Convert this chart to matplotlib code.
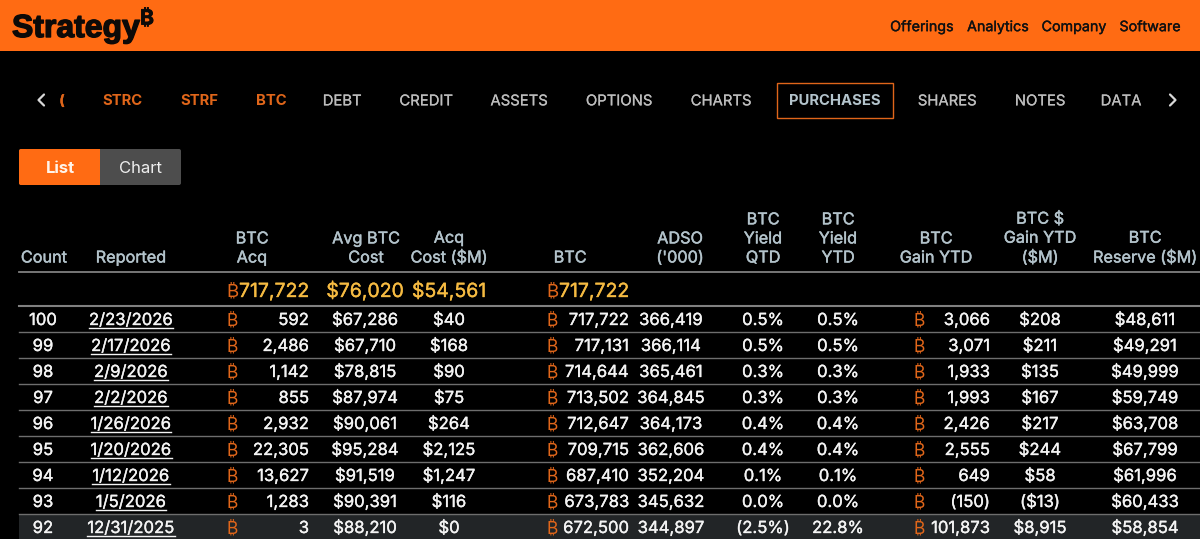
"""Strategy purchases table, drawn in pixel coordinates."""
import matplotlib
matplotlib.use("Agg")
import matplotlib.pyplot as plt
import matplotlib.patheffects as pe
from matplotlib.patches import Rectangle, FancyBboxPatch

ORANGE = "#ff6b13"
BTC_ORANGE = "#e0661a"
GOLD = "#f6bb42"
HEAD = "#b3c3cb"
WHITE = "#f4f4f4"
RULE = "#6e6e6e"
NAVGREY = "#bdbdbd"
FONT = ["Inter", "DejaVu Sans"]
BTC = "\u20bf"

top_links = ["Offerings", "Analytics", "Company", "Software"]
top_link_x = [922, 998, 1074, 1150]

nav_orange = ["STRC", "STRF", "BTC"]
nav_orange_x = [122.5, 199, 271]
nav_grey = ["DEBT", "CREDIT", "ASSETS", "OPTIONS", "CHARTS", "SHARES", "NOTES", "DATA"]
nav_grey_x = [342, 426, 519, 619, 721, 947, 1040, 1121]

counts = [100, 99, 98, 97, 96, 95, 94, 93, 92]
reported = ["2/23/2026", "2/17/2026", "2/9/2026", "2/2/2026", "1/26/2026",
            "1/20/2026", "1/12/2026", "1/5/2026", "12/31/2025"]
btc_acq = ["592", "2,486", "1,142", "855", "2,932", "22,305", "13,627", "1,283", "3"]
avg_cost = ["$67,286", "$67,710", "$78,815", "$87,974", "$90,061",
            "$95,284", "$91,519", "$90,391", "$88,210"]
acq_cost = ["$40", "$168", "$90", "$75", "$264", "$2,125", "$1,247", "$116", "$0"]
btc_total = ["717,722", "717,131", "714,644", "713,502", "712,647",
             "709,715", "687,410", "673,783", "672,500"]
adso = ["366,419", "366,114", "365,461", "364,845", "364,173",
        "362,606", "352,204", "345,632", "344,897"]
yield_qtd = ["0.5%", "0.5%", "0.3%", "0.3%", "0.4%", "0.4%", "0.1%", "0.0%", "(2.5%)"]
yield_ytd = ["0.5%", "0.5%", "0.3%", "0.3%", "0.4%", "0.4%", "0.1%", "0.0%", "22.8%"]
gain_ytd = ["3,066", "3,071", "1,933", "1,993", "2,426", "2,555", "649", "(150)", "101,873"]
usd_gain = ["$208", "$211", "$135", "$167", "$217", "$244", "$58", "($13)", "$8,915"]
reserve = ["$48,611", "$49,291", "$49,999", "$59,749", "$63,708",
           "$67,799", "$61,996", "$60,433", "$58,854"]

headers = ["Count", "Reported", "BTC\nAcq", "Avg BTC\nCost", "Acq\nCost ($M)", "BTC",
           "ADSO\n('000)", "BTC\nYield\nQTD", "BTC\nYield\nYTD", "BTC\nGain YTD",
           "BTC $\nGain YTD\n($M)", "BTC\nReserve ($M)"]
header_x = [44, 131, 252, 366, 449, 570, 680, 763, 838, 936, 1040, 1145]

W, H = 1200, 539
fig = plt.figure(figsize=(W / 100, H / 100), dpi=100, facecolor="black")
ax = fig.add_axes([0, 0, 1, 1])
ax.set_xlim(0, W)
ax.set_ylim(H, 0)
ax.axis("off")


def put(x, y, s, size=12, color=WHITE, ha="center", weight=0.25, **kw):
    # y is the row centre; baseline alignment keeps digits level across cells
    t = ax.text(x, y + size * 0.5, s, fontsize=size, color=color, ha=ha,
                va="baseline", family=FONT, **kw)
    if weight:
        t.set_path_effects([pe.withStroke(linewidth=weight, foreground=color)])
    return t


# header bar and logo
ax.add_patch(Rectangle((0, 0), W, 51, color=ORANGE, lw=0))
logo = ax.text(12, 37, "Strategy", fontsize=23, color="#0d0a08", ha="left", va="baseline",
               family=["Liberation Sans", "DejaVu Sans"], fontweight="bold")
logo.set_path_effects([pe.withStroke(linewidth=1.0, foreground="#0d0a08")])
put(147, 17, BTC, size=15, color="#0d0a08", fontweight="bold", weight=0.6)
for s, x in zip(top_links, top_link_x):
    put(x, 26, s, size=10.3, color="#111111")

# tab strip
for pts in ([(44, 94.5), (38.5, 100), (44, 105.5)], [(1170, 94.5), (1175.5, 100), (1170, 105.5)]):
    ax.plot(*zip(*pts), color="#d8d8d8", lw=1.6, solid_capstyle="round")
put(62, 100, "(", size=10, color=BTC_ORANGE, fontweight="bold")
for s, x in zip(nav_orange, nav_orange_x):
    put(x, 100, s, size=10.7, color=BTC_ORANGE, fontweight="bold", weight=0)
for s, x in zip(nav_grey, nav_grey_x):
    put(x, 100, s, size=10.7, color=NAVGREY, weight=0.15)
ax.add_patch(Rectangle((776.5, 82.5), 116.5, 35.5, fill=False, ec=BTC_ORANGE, lw=1))
put(835, 100, "PURCHASES", size=10.7, color=HEAD, fontweight="bold", weight=0)

# list / chart toggle
ax.add_patch(FancyBboxPatch((19, 149), 162, 36, boxstyle="round,pad=0,rounding_size=2",
                            fc="#4d4d4d", lw=0))
ax.add_patch(FancyBboxPatch((19, 149), 81, 36, boxstyle="round,pad=0,rounding_size=2",
                            fc=ORANGE, lw=0))
ax.add_patch(Rectangle((90, 149), 10, 36, color=ORANGE, lw=0))
put(60, 167, "List", size=12, color="#fff4ea", fontweight="bold", weight=0)
put(141, 167, "Chart", size=12, color="#efefef", weight=0)

# column heads, bottom-aligned above the first rule
for s, x in zip(headers, header_x):
    t = ax.text(x, 265.5, s, fontsize=11.7, color=HEAD, ha="center", va="bottom",
                linespacing=1.34, family=FONT)
    t.set_path_effects([pe.withStroke(linewidth=0.3, foreground=HEAD)])

# totals row
put(233, 290, BTC, size=13.5, color=BTC_ORANGE, weight=0)
put(309, 290, btc_total[0], size=14, color=GOLD, ha="right")
put(365, 290, "$76,020", size=14, color=GOLD)
put(449, 290, "$54,561", size=14, color=GOLD)
put(552, 290, BTC, size=13.5, color=BTC_ORANGE, weight=0)
put(629, 290, btc_total[0], size=14, color=GOLD, ha="right")

# body rows
row_h = 26
first_y = 319
ax.add_patch(Rectangle((19, 514), W - 19, 25, color="#222527", lw=0))
fig.canvas.draw()
rend = fig.canvas.get_renderer()
inv = ax.transData.inverted()
for i in range(len(counts)):
    y = first_y + i * row_h
    put(43, y, str(counts[i]))
    t = put(131, y, reported[i])
    bb = t.get_window_extent(rend)
    x0 = inv.transform((bb.x0, 0))[0]
    x1 = inv.transform((bb.x1, 0))[0]
    ax.plot([x0, x1], [y + 8.5, y + 8.5], color=WHITE, lw=1)
    put(232, y, BTC, size=12.5, color=BTC_ORANGE, weight=0)
    put(309, y, btc_acq[i], ha="right")
    put(365, y, avg_cost[i])
    put(449, y, acq_cost[i])
    put(552, y, BTC, size=12.5, color=BTC_ORANGE, weight=0)
    put(629, y, btc_total[i], ha="right")
    put(671, y, adso[i])
    put(763, y, yield_qtd[i])
    put(838, y, yield_ytd[i])
    put(919, y, BTC, size=12.5, color=BTC_ORANGE, weight=0)
    put(990, y, gain_ytd[i], ha="right")
    put(1040, y, usd_gain[i])
    put(1145, y, reserve[i])
    if i < len(counts) - 1:
        ax.plot([19, W], [y + 13, y + 13], color=RULE, lw=1)

ax.plot([19, W], [272, 272], color="#808080", lw=1.3)
ax.plot([19, W], [306, 306], color="#808080", lw=1.5)

fig.savefig("out.png", dpi=100, facecolor="black")
